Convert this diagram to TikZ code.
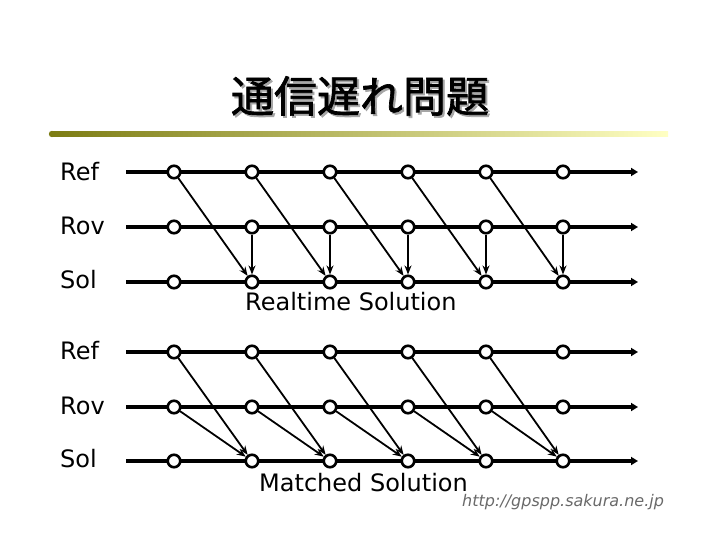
\documentclass[tikz,border=0pt]{standalone}
\usepackage{fontspec}
\setmainfont{DejaVu Sans}
\newfontfamily\cjk{Noto Sans CJK JP}[FakeBold=1.6]
\usetikzlibrary{arrows.meta}
\definecolor{olive1}{RGB}{125,125,20}
\definecolor{paley}{RGB}{255,255,195}
\definecolor{urlgray}{RGB}{105,105,105}
\tikzset{
  dot/.style={circle,draw=black,fill=white,line width=2.6bp,minimum size=12.5bp,inner sep=0pt},
  tline/.style={line width=4bp,-{Triangle[length=7bp,width=8bp]}},
  conn/.style={line width=1.8bp,-{Stealth[length=9bp,width=7bp]}},
  lbl/.style={font=\fontsize{24bp}{26bp}\selectfont,anchor=west,inner sep=0pt},
}
\begin{document}
\begin{tikzpicture}[x=1bp,y=-1bp]
\useasboundingbox (0,0) rectangle (720,540);
% title with shadow
\node[font=\cjk\fontsize{43bp}{46bp}\selectfont,inner sep=0pt] (title) at (360,97)
  {\rlap{\kern2bp\raisebox{-2bp}{\color{black!35}通信遅れ問題}}通信遅れ問題};
% rule
\shade[left color=olive1,right color=paley] (52,131.5) rectangle (668,136.5);
\fill[olive1] (52,134) circle (3.2bp);
% rows
\foreach \nm/\yy in {r/172,v/227,s/282,R/352,V/407,S/461}{
  \coordinate (\nm0) at (126,\yy);
  \coordinate (\nm e) at (638,\yy);
  \draw[tline] (\nm0) -- (\nm e);
  \foreach \i/\xx in {1/174,2/252,3/330,4/408,5/486,6/563}{
    \node[dot] (\nm\i) at (\xx,\yy) {};
  }
}
% labels
\node[lbl] (lr) at (60,172) {Ref};
\node[lbl] (lv) at (60,226) {Rov};
\node[lbl] (ls) at (60,280) {Sol};
\node[lbl] (lR) at (60,351) {Ref};
\node[lbl] (lV) at (60,406) {Rov};
\node[lbl] (lS) at (60,459) {Sol};
% connectors
\foreach \i/\j in {1/2,2/3,3/4,4/5,5/6}{
  \draw[conn] (r\i) -- (s\j);
  \draw[conn] (v\j) -- (s\j);
  \draw[conn] (R\i) -- (S\j);
  \draw[conn] (V\i) -- (S\j);
}
\node[lbl] (rt) at (245,302) {Realtime Solution};
\node[lbl] (mt) at (259,483) {Matched Solution};
\node[anchor=west,inner sep=0pt,text=urlgray,font=\fontsize{16bp}{18bp}\selectfont\itshape] (url) at (462,502) {http://gpspp.sakura.ne.jp};
\end{tikzpicture}
\end{document}
